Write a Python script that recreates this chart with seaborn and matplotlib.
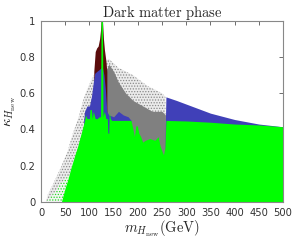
import numpy as np
import matplotlib
matplotlib.use("Agg")
import matplotlib.pyplot as plt
import seaborn as sns

# boundaries of the point clouds (x in GeV, kappa)
sparse_gray_x = [10, 14, 25, 41, 55, 66, 78, 87, 95, 105, 120, 140, 160, 190, 220, 250, 257, 258]
sparse_gray_top = [0.0, 0.04, 0.10, 0.19, 0.28, 0.38, 0.47, 0.56, 0.62, 0.68, 0.75, 0.79, 0.74, 0.70, 0.64, 0.60, 0.58, 0.0]

dense_gray_x = [118, 125, 130, 140, 150, 160, 175, 190, 210, 230, 250, 257, 258]
dense_gray_top = [0.45, 0.62, 0.70, 0.76, 0.72, 0.66, 0.60, 0.56, 0.53, 0.50, 0.50, 0.48, 0.0]

red_x = [109, 112, 115, 118, 121, 123, 124, 127, 129, 131, 134, 136]
red_top = [0.72, 0.83, 0.85, 0.86, 0.90, 0.95, 1.0, 1.0, 0.90, 0.84, 0.78, 0.72]

blue_x = [88, 90, 95, 100, 104, 108, 111, 115, 120, 124, 127, 130, 133, 136, 140, 150,
          160, 170, 180, 186, 188, 255, 257, 258, 280, 300, 350, 400, 450, 500]
blue_top = [0.45, 0.50, 0.53, 0.53, 0.58, 0.66, 0.71, 0.72, 0.73, 0.74, 0.74, 0.70, 0.62, 0.50, 0.48, 0.47,
            0.50, 0.48, 0.47, 0.45, 0.0, 0.0, 0.45, 0.58, 0.56, 0.54, 0.49, 0.455, 0.43, 0.415]

green_sparse_x = [10, 20, 30, 40, 50, 60, 65]
green_sparse_top = [0.0, 0.03, 0.06, 0.10, 0.13, 0.15, 0.0]

green_x = [42, 50, 55, 62, 70, 76, 83, 90, 92, 95, 100, 101, 104, 106, 108, 112, 116, 120,
           123, 124, 127, 128, 131, 134, 137, 138, 140, 141, 143, 146, 150, 160, 170, 180, 186,
           190, 193, 196, 199, 202, 206, 210, 215, 225, 235, 242, 246, 250, 253, 256, 258,
           300, 350, 400, 450, 500]
green_top = [0.0, 0.08, 0.12, 0.19, 0.26, 0.31, 0.38, 0.45, 0.48, 0.46, 0.46, 0.51, 0.51, 0.46,
             0.50, 0.46, 0.46, 0.47, 0.47, 1.0, 1.0, 0.47, 0.50, 0.46, 0.46, 0.38, 0.38, 0.50, 0.46,
             0.45, 0.45, 0.45, 0.45, 0.45, 0.45, 0.40, 0.36, 0.42, 0.42, 0.38, 0.36, 0.33, 0.34,
             0.35, 0.34, 0.36, 0.31, 0.28, 0.26, 0.30, 0.45, 0.447, 0.44, 0.43, 0.425, 0.415]

x_ticks = [0, 50, 100, 150, 200, 250, 300, 350, 400, 450, 500]
y_ticks = [0, 0.2, 0.4, 0.6, 0.8, 1]
y_tick_labels = ["0", "0.2", "0.4", "0.6", "0.8", "1"]

sns.set_style("white")
plt.rcParams["mathtext.fontset"] = "cm"
plt.rcParams["font.family"] = ["DejaVu Sans"]
plt.rcParams["hatch.linewidth"] = 0.6

fig = plt.figure(figsize=(2.93, 2.45), dpi=100)
ax = fig.add_axes([0.14, 0.1755, 0.826, 0.74])

ax.fill_between(sparse_gray_x, 0, sparse_gray_top, facecolor="#ebebeb",
                edgecolor="#8a8a8a", hatch="......", linewidth=0)
ax.fill_between(dense_gray_x, 0, dense_gray_top, color="#808080", linewidth=0)
ax.fill_between(red_x, 0, red_top, color="#5a0c0c", linewidth=0)
ax.fill_between(blue_x, 0, blue_top, color="#4040b8", linewidth=0)
ax.fill_between(green_sparse_x, 0, green_sparse_top, facecolor="#f4f4f4",
                edgecolor="#22dd22", hatch="......", linewidth=0)
ax.fill_between(green_x, 0, green_top, color="#00ff00", linewidth=0)

ax.set_xlim(0, 500)
ax.set_ylim(0, 1)
ax.set_xticks(x_ticks)
ax.set_yticks(y_ticks)
ax.set_yticklabels(y_tick_labels)
ax.tick_params(direction="in", length=3, width=0.6, color="#555555",
               labelsize=7.2, labelcolor="#333333", top=True, right=True, pad=4)
for sp in ax.spines.values():
    sp.set_color("#888888")
    sp.set_linewidth(0.8)

ax.set_title(r"$\mathrm{Dark\ matter\ phase}$", fontsize=10.5, pad=3)
ax.set_xlabel(r"$m_{H_{\rm new}}(\mathrm{GeV})$", fontsize=10.5, labelpad=1)
ax.set_ylabel(r"$\kappa_{H_{\rm new}}$", fontsize=10.5, labelpad=1)

fig.savefig("out.png", dpi=100)
